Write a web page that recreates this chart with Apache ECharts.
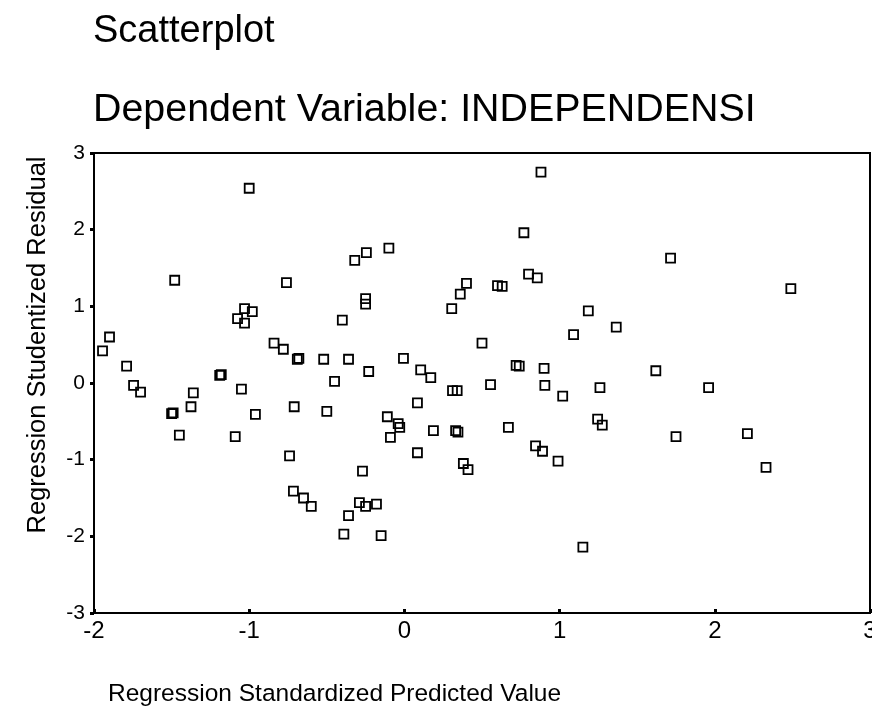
<!DOCTYPE html>
<html>
<head>
<meta charset="utf-8">
<script src="https://cdn.jsdelivr.net/npm/echarts@6/dist/echarts.min.js"></script>
<style>
html,body{margin:0;padding:0;background:#fff;}
#c{width:872px;height:718px;}
</style>
</head>
<body>
<div id="c"></div>
<script>
// Regression Standardized Predicted Value (x)
var predicted = [
  -1.945, -1.90, -1.79, -1.745, -1.70, -1.48, -1.50, -1.49, -1.45, -1.375,
  -1.36, -1.19, -1.18, -1.09, -1.075, -1.05, -1.03, -1.03, -1.00, -0.98,
  -0.96, -0.84, -0.78, -0.76, -0.74, -0.715, -0.71, -0.69, -0.68, -0.65,
  -0.60, -0.52, -0.50, -0.45, -0.40, -0.39, -0.36, -0.36, -0.32, -0.29,
  -0.27, -0.25, -0.25, -0.245, -0.25, -0.23, -0.18, -0.15, -0.11, -0.10,
  -0.09, -0.04, -0.03, -0.006, 0.084, 0.084, 0.105, 0.17, 0.187, 0.305,
  0.31, 0.34, 0.33, 0.345, 0.36, 0.38, 0.40, 0.41, 0.50, 0.555,
  0.60, 0.63, 0.67, 0.72, 0.74, 0.77, 0.80, 0.845, 0.856, 0.88,
  0.89, 0.90, 0.905, 0.99, 1.02, 1.09, 1.15, 1.185, 1.245, 1.26,
  1.275, 1.365, 1.62, 1.715, 1.75, 1.96, 2.21, 2.33, 2.49
];
// Regression Studentized Residual (y)
var residual = [
  0.42, 0.60, 0.22, -0.03, -0.12, 1.34, -0.40, -0.39, -0.68, -0.31,
  -0.13, 0.10, 0.11, -0.70, 0.84, -0.08, 0.97, 0.78, 2.54, 0.93,
  -0.41, 0.52, 0.44, 1.31, -0.95, -1.41, -0.31, 0.31, 0.32, -1.50,
  -1.61, 0.31, -0.37, 0.02, 0.82, -1.97, 0.31, -1.73, 1.60, -1.56,
  -1.15, 1.10, 1.03, 1.70, -1.61, 0.15, -1.58, -1.99, -0.44, 1.76,
  -0.71, -0.53, -0.58, 0.32, -0.26, -0.91, 0.17, 0.07, -0.62, 0.97,
  -0.10, -0.10, -0.62, -0.64, 1.16, -1.05, 1.30, -1.13, 0.52, -0.02,
  1.27, 1.26, -0.58, 0.23, 0.22, 1.96, 1.42, -0.82, 1.37, 2.75,
  -0.89, 0.19, -0.03, -1.02, -0.17, 0.63, -2.14, 0.94, -0.47, -0.06,
  -0.55, 0.73, 0.16, 1.63, -0.70, -0.06, -0.66, -1.10, 1.23
];
var xTicks = [-2, -1, 0, 1, 2, 3];
var yTicks = [-3, -2, -1, 0, 1, 2, 3];
var titleText = 'Scatterplot';
var subtitleText = 'Dependent Variable: INDEPENDENSI';
var xName = 'Regression Standardized Predicted Value';
var yName = 'Regression Studentized Residual';

var points = predicted.map(function (x, i) { return [x, residual[i]]; });
var FONT = '"Liberation Sans", Arial, Helvetica, sans-serif';

var chart = echarts.init(document.getElementById('c'), null, {renderer: 'canvas'});
chart.setOption({
  backgroundColor: '#ffffff',
  animation: false,
  grid: {
    left: 94, right: 2, top: 153, bottom: 105,
    containLabel: false, outerBoundsMode: 'none',
    show: true, borderColor: '#000', borderWidth: 2, backgroundColor: 'transparent'
  },
  xAxis: {
    type: 'value',
    min: xTicks[0], max: xTicks[xTicks.length - 1], interval: 1,
    splitLine: {show: false},
    axisLine: {show: true, onZero: false, lineStyle: {color: '#000', width: 2}},
    axisTick: {show: true, inside: true, length: 4, lineStyle: {color: '#000', width: 3}},
    axisLabel: {color: '#000', fontSize: 24, fontFamily: FONT, margin: 6, hideOverlap: false}
  },
  yAxis: {
    type: 'value',
    min: yTicks[0], max: yTicks[yTicks.length - 1], interval: 1,
    splitLine: {show: false},
    axisLine: {show: true, onZero: false, lineStyle: {color: '#000', width: 2}},
    axisTick: {show: true, inside: false, length: 4, lineStyle: {color: '#000', width: 3}},
    axisLabel: {color: '#000', fontSize: 21, fontFamily: FONT, margin: 9}
  },
  series: [{
    type: 'scatter',
    data: points,
    symbol: 'rect',
    symbolSize: 9,
    itemStyle: {color: 'rgba(0,0,0,0)', borderColor: '#000', borderWidth: 1.8, opacity: 1}
  }],
  graphic: [
    {type: 'text', left: 93, top: 13, style: {text: titleText, font: '38px ' + FONT, fill: '#000'}},
    {type: 'text', left: 93, top: 91, style: {text: subtitleText, font: '39.4px ' + FONT, fill: '#000'}},
    {type: 'text', left: 108, top: 682, style: {text: xName, font: '24.5px ' + FONT, fill: '#000'}},
    {type: 'text', x: 25, y: 345, rotation: Math.PI / 2,
     style: {text: yName, font: '25.5px ' + FONT, fill: '#000', align: 'center', verticalAlign: 'top'}}
  ]
});
</script>
</body>
</html>
